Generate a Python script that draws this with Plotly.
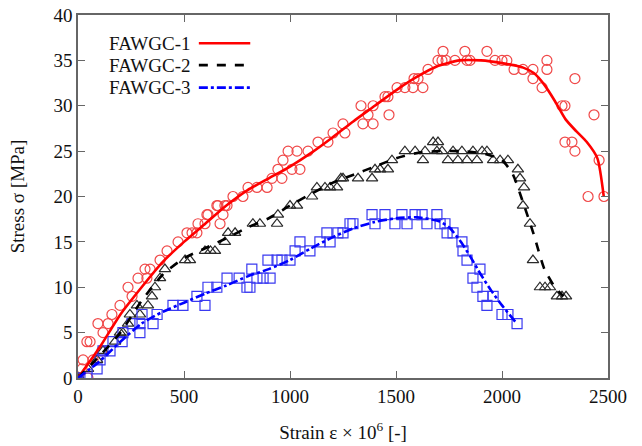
import plotly.graph_objects as go

# Measured stress-strain points (strain x 1e6, stress in MPa)
fawgc1_x = [0, 19, 24, 47, 71, 42, 57, 113, 118, 94, 142, 160, 198, 236, 255, 283, 325, 316, 340, 387,
            420, 472, 514, 538, 561, 566, 599, 608, 613, 660, 670, 684, 655, 693, 703, 731, 778, 802, 844,
            892, 915, 943, 962, 967, 991, 1009, 1033, 1047, 1085, 1132, 1179, 1203, 1250, 1259, 1335, 1344,
            1368, 1392, 1392, 1448, 1462, 1467, 1505, 1542, 1580, 1585, 1604, 1627, 1651, 1698, 1717, 1722,
            1736, 1778, 1825, 1835, 1849, 1929, 1967, 2000, 2023, 2057, 2099, 2146, 2146, 2189, 2212, 2212,
            2283, 2297, 2297, 2330, 2344, 2344, 2434, 2458, 2406, 2481]
fawgc1_y = [0, 1, 2, 0, 2, 4, 4, 3, 5, 6, 6, 7, 8, 10, 9, 11, 11, 12, 12, 13,
            14, 15, 16, 16, 16, 17, 17, 18, 18, 19, 17, 18, 19, 19, 19, 20, 20, 21, 21,
            21, 22, 23, 22, 24, 25, 23, 25, 23, 25, 26, 26, 27, 28, 27, 30, 28,
            29, 30, 28, 31, 31, 29, 32, 32, 32, 33, 33, 32, 34, 35, 35, 36,
            35, 35, 36, 35, 35, 36, 35, 35, 35, 34, 34, 34, 33, 32, 35, 34,
            30, 30, 26, 26, 33, 25, 29, 24, 20, 20]

fawgc2_x = [0, 9, 47, 90, 118, 175, 198, 212, 236, 245, 278, 292, 330, 349, 363, 387, 410, 505, 528, 599,
            625, 646, 693, 708, 741, 825, 858, 939, 943, 1000, 1033, 1104, 1127, 1165, 1189, 1222, 1240,
            1250, 1321, 1387, 1401, 1425, 1462, 1481, 1542, 1590, 1627, 1637, 1675, 1698, 1693, 1717, 1745,
            1769, 1792, 1811, 1835, 1863, 1882, 1906, 1929, 1958, 1991, 2028, 2075, 2085, 2104, 2099, 2132,
            2146, 2179, 2203, 2226, 2259, 2283, 2302]
fawgc2_y = [0, 0, 1, 2, 3, 4, 5, 5, 6, 7, 8, 7, 8, 9, 10, 11, 12, 13, 13, 14,
            14, 14, 15, 16, 16, 17, 17, 17, 18, 19, 19, 20, 21, 21, 21, 21, 22,
            22, 22, 22, 23, 23, 23, 24, 25, 25, 24, 25, 26, 26, 25, 25, 24,
            25, 24, 25, 24, 25, 24, 25, 25, 24, 24, 24, 23, 22, 21, 19, 17,
            13, 10, 10, 10, 9, 9, 9]

fawgc3_x = [0, 9, 42, 90, 104, 118, 151, 165, 208, 212, 255, 292, 292, 302, 354, 373, 448, 495, 561, 599,
            613, 655, 703, 760, 797, 811, 820, 844, 873, 906, 896, 939, 962, 1000, 1024, 1047, 1094, 1141,
            1174, 1189, 1226, 1250, 1283, 1297, 1387, 1401, 1448, 1495, 1528, 1552, 1590, 1623, 1646, 1693,
            1708, 1731, 1741, 1769, 1811, 1816, 1835, 1896, 1863, 1882, 1910, 1958, 1929, 2000, 2028, 2071]
fawgc3_y = [0, 0, 0, 1, 2, 3, 3, 4, 4, 5, 6, 5, 6, 7, 6, 7, 8, 8, 9, 8,
            10, 10, 11, 11, 10, 10, 12, 11, 11, 11, 13, 13, 13, 13, 14, 15, 14, 15,
            16, 15, 16, 16, 17, 17, 18, 17, 18, 17, 18, 17, 18, 18, 17, 18,
            17, 17, 16, 16, 15, 14, 13, 12, 11, 10, 9, 9, 8, 7, 7, 6]

# Fitted trend curves
fit1_x = [0, 100, 200, 300, 400, 500, 600, 700, 800, 900, 1000, 1100, 1200, 1300, 1400, 1500, 1600, 1700,
          1800, 1900, 2000, 2100, 2150, 2200, 2250, 2300, 2350, 2400, 2450, 2480]
fit1_y = [0, 3.3, 7, 10, 12.8, 15, 17, 19, 20.7, 22, 23.3, 24.8, 26.5, 28.3, 30, 31.7, 33.2, 34.4,
          35, 35, 34.7, 34.2, 33.6, 32.3, 30.5, 28.5, 27.2, 26, 24.2, 20]

fit2_x = [0, 100, 200, 300, 400, 500, 600, 700, 800, 900, 1000, 1100, 1200, 1300, 1400, 1500, 1600, 1700,
          1800, 1900, 1950, 2000, 2050, 2100, 2150, 2200, 2250, 2290]
fit2_y = [0, 2.4, 5, 8.5, 11.4, 13.2, 14.3, 15.4, 16.6, 17.6, 19, 20.3, 21.5, 22.4, 23.3, 24.2, 24.8, 25,
          25, 24.8, 24.5, 24, 22.5, 19.3, 15.8, 12, 10, 9]

fit3_x = [0, 100, 200, 300, 400, 500, 600, 700, 800, 900, 1000, 1100, 1200, 1300, 1400, 1500, 1600, 1700,
          1750, 1800, 1850, 1900, 1950, 2000, 2070]
fit3_y = [0, 1.8, 4, 6, 7.3, 8.3, 9.3, 10.2, 11.2, 12, 13, 14.3, 15.5, 16.5, 17.2, 17.6, 17.7, 17.3,
          16.6, 15.2, 13.4, 11.4, 9.6, 8, 6]

names = ["FAWGC-1", "FAWGC-2", "FAWGC-3"]
colors = ["#ff0000", "#000000", "#0000ff"]
dashes = ["solid", "dash", "dashdot"]
symbols = ["circle-open", "triangle-up-open", "square-open"]
marker_colors = ["#f04848", "#2a2a2a", "#3a3af0"]

FONT = "Liberation Serif"

fig = go.Figure()

points = [(fawgc1_x, fawgc1_y), (fawgc2_x, fawgc2_y), (fawgc3_x, fawgc3_y)]
fits = [(fit1_x, fit1_y), (fit2_x, fit2_y), (fit3_x, fit3_y)]

for i in range(3):
    px, py = points[i]
    fig.add_trace(go.Scatter(
        x=px, y=py, mode="markers", showlegend=False,
        marker=dict(symbol=symbols[i], size=10, color=marker_colors[i], line=dict(width=1.2)),
    ))

for i in range(3):
    fx, fy = fits[i]
    fig.add_trace(go.Scatter(
        x=fx, y=fy, mode="lines", showlegend=False,
        line=dict(color=colors[i], width=2.6, dash=dashes[i], shape="spline", smoothing=0.6),
    ))

# Key in the upper-left corner: label first, then a sample of the line
key_rows = [0.922, 0.862, 0.800]
for i in range(3):
    fig.add_annotation(
        x=0.217, y=key_rows[i], xref="paper", yref="paper", text=names[i],
        showarrow=False, xanchor="right", yanchor="middle",
        font=dict(family=FONT, size=19, color="#111111"),
    )
    fig.add_shape(
        type="line", xref="paper", yref="paper",
        x0=0.228, x1=0.325, y0=key_rows[i], y1=key_rows[i],
        line=dict(color=colors[i], width=2.6, dash=dashes[i]),
    )

axis_common = dict(
    showline=True, linecolor="#666666", linewidth=1.5, mirror="allticks",
    ticks="inside", ticklen=7, tickcolor="#666666", tickwidth=1.2,
    showgrid=False, zeroline=False, automargin=False,
    tickfont=dict(family=FONT, size=19, color="#111111"),
)

fig.update_layout(
    width=642, height=446,
    margin=dict(l=78, r=34, t=15, b=68),
    font=dict(family=FONT, size=19, color="#111111"),
    paper_bgcolor="white", plot_bgcolor="white",
    xaxis=dict(range=[0, 2500], tickvals=[0, 500, 1000, 1500, 2000, 2500],
               title=dict(text="Strain ε × 10<sup>6</sup> [-]", font=dict(family=FONT, size=19, color="#111111"),
                          standoff=20),
               **axis_common),
    yaxis=dict(range=[0, 40], tickvals=list(range(0, 41, 5)),
               title=dict(text="Stress σ [MPa]", font=dict(family=FONT, size=19, color="#111111"),
                          standoff=24),
               **axis_common),
)

fig.write_html("out.html")
